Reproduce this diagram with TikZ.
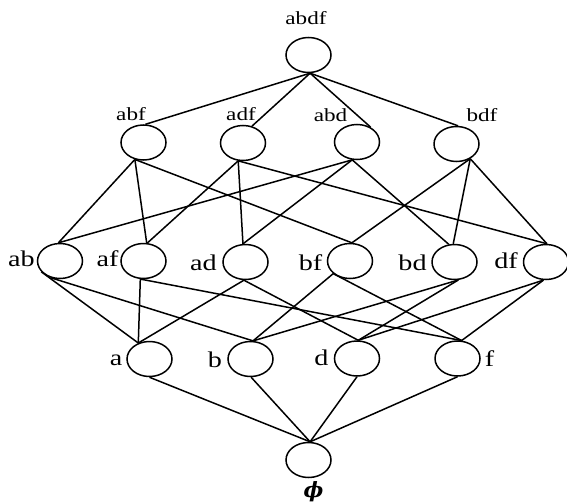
\documentclass[tikz,border=0pt]{standalone}
\usepackage{fontspec}
\setmainfont{Liberation Serif}
\newfontfamily\lblfont[FakeStretch=1.25]{Liberation Serif}
\newfontfamily\phifont{DejaVu Serif}
\usetikzlibrary{shapes.geometric}
\tikzset{
  setnode/.style={ellipse, draw, line width=1.5pt, minimum width=45pt, minimum height=35pt, inner sep=0pt},
  link/.style={line width=1.5pt},
  lblsmall/.style={font=\lblfont\fontsize{18.5}{20}\selectfont, anchor=base, inner sep=0pt},
  lblbig/.style={font=\lblfont\fontsize{22.5}{24}\selectfont, anchor=base, inner sep=0pt},
}
\begin{document}
\begin{tikzpicture}[x=1pt, y=-1pt]
\useasboundingbox (0,0) rectangle (567,503);

% subsets of {a,b,d,f}
\node[setnode] (abdf) at (308.5,55) {};
\node[setnode] (abf) at (143.5,142.5) {};
\node[setnode] (adf) at (243,143) {};
\node[setnode] (abd) at (357,142) {};
\node[setnode] (bdf) at (456.5,144) {};
\node[setnode] (ab) at (60,261) {};
\node[setnode] (af) at (143.5,261) {};
\node[setnode] (ad) at (245.5,262) {};
\node[setnode] (bf) at (350,261) {};
\node[setnode] (bd) at (454.5,262) {};
\node[setnode] (df) at (546,262) {};
\node[setnode] (a) at (149.5,359) {};
\node[setnode] (b) at (250.5,359) {};
\node[setnode] (d) at (357,358.5) {};
\node[setnode] (f) at (457.5,358.5) {};
\node[setnode] (e) at (308.5,460) {};

% labels
\node[lblsmall] (Labdf) at (306,25) {abdf};
\node[lblsmall] (Labf) at (131,120) {abf};
\node[lblsmall] (Ladf) at (241,120) {adf};
\node[lblsmall] (Labd) at (330.5,121) {abd};
\node[lblsmall] (Lbdf) at (482,121) {bdf};
\node[lblbig] (Lab) at (21.5,266) {ab};
\node[lblbig] (Laf) at (107.5,266) {af};
\node[lblbig] (Lad) at (203.5,270) {ad};
\node[lblbig] (Lbf) at (310.5,270) {bf};
\node[lblbig] (Lbd) at (412.5,270) {bd};
\node[lblbig] (Ldf) at (506,268) {df};
\node[lblbig] (La) at (116,365) {a};
\node[lblbig] (Lb) at (215,367) {b};
\node[lblbig] (Ld) at (321.5,365) {d};
\node[lblbig] (Lf) at (489.5,366) {f};
\node[inner sep=0pt, font=\phifont\bfseries\itshape\fontsize{21}{22}\selectfont] (Le) at (313.5,492) {ϕ};

% covering relations
\draw[link] (abdf.-85) -- (abf.84);
\draw[link] (abdf.-85) -- (adf.62);
\draw[link] (abdf.-85) -- (abd.47);
\draw[link] (abdf.-85) -- (bdf.85);

\draw[link] (abf.-117) -- (ab.95);
\draw[link] (abf.-117) -- (af.80);
\draw[link] (abf.-117) -- (bf.84);
\draw[link] (adf.-105) -- (af.78);
\draw[link] (adf.-105) -- (ad.98);
\draw[link] (adf.-105) -- (df.87);
\draw[link] (abd.-105) -- (ab.95);
\draw[link] (abd.-105) -- (ad.98);
\draw[link] (abd.-105) -- (bd.108);
\draw[link] (bdf.-47) -- (bf.84);
\draw[link] (bdf.-47) -- (bd.94);
\draw[link] (bdf.-47) -- (df.87);

\draw[link] (ab.-150) -- (a.125);
\draw[link] (ab.-120) -- (b.82);
\draw[link] (af.-100) -- (a.125);
\draw[link] (af.-100) -- (f.77);
\draw[link] (ad.-95) -- (a.125);
\draw[link] (ad.-95) -- (d.86);
\draw[link] (bf.-143) -- (b.82);
\draw[link] (bf.-143) -- (f.77);
\draw[link] (bd.-78) -- (b.82);
\draw[link] (bd.-78) -- (d.86);
\draw[link] (df.-98) -- (d.86);
\draw[link] (df.-98) -- (f.77);

\draw[link] (a.-90) -- (e.85);
\draw[link] (b.-88) -- (e.85);
\draw[link] (d.-90) -- (e.85);
\draw[link] (f.-90) -- (e.85);
\end{tikzpicture}
\end{document}
